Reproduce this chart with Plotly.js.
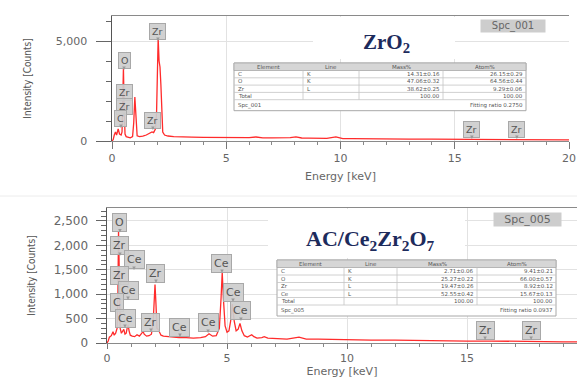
<!DOCTYPE html>
<html>
<head>
<meta charset="utf-8">
<script src="https://cdn.plot.ly/plotly-3.0.1.min.js"></script>
<style>html,body{margin:0;padding:0;background:#fff;}#chart{width:577px;height:378px;}</style>
</head>
<body>
<div id="chart"></div>
<script>
// ---------- DATA ----------
// ZrO2 spectrum (Spc_001)
const topKeV = [0,0.05,0.1,0.15,0.2, 0.27,0.33,0.4,0.44,0.47,
  0.5,0.53,0.57,0.62,0.7, 0.8,0.9,0.95,1.0,1.05,
  1.1,1.2,1.35,1.5,1.65, 1.75,1.82,1.9,1.95,1.98,
  2.02,2.06,2.1,2.14,2.18, 2.22,2.3,2.45,2.7,3.0,
  3.5,4.0,4.5,5.0,5.5, 6.0,6.3,6.6,7.0,7.5,
  7.8,8.05,8.3,8.6,9.0, 9.4,9.8,10.1,10.5,11,
  12,13,14,15,16, 17,18,19,20];
const topCounts = [0,60,300,450,300, 600,350,300,450,1800,
  3650,1800,350,220,180, 160,220,900,2200,900,
  260,220,240,300,380, 450,420,600,1400,3000,
  5150,4000,3700,2800,1200, 450,300,250,220,200,
  190,180,170,180,170, 170,200,160,160,150,
  170,210,150,140,140, 130,210,120,120,110,
  100,90,90,80,80, 70,70,60,60];

// AC/Ce2Zr2O7 spectrum (Spc_005)
const botKeV = [0,0.05,0.1,0.18,0.25, 0.3,0.36,0.42,0.45,0.48,
  0.51,0.55,0.6,0.65,0.7, 0.75,0.8,0.85,0.88,0.92,
  0.97,1.05,1.15,1.25,1.35, 1.45,1.5,1.55,1.65,1.75,
  1.85,1.92,1.96,2.0,2.04, 2.08,2.13,2.18,2.25,2.35,
  2.5,2.8,3.0,3.3,3.6, 3.9,4.1,4.25,4.4,4.55,
  4.68,4.75,4.8,4.85,4.92, 5.0,5.08,5.15,5.22,5.3,
  5.38,5.46,5.54,5.62,5.72, 5.85,5.95,6.03,6.12,6.25,
  6.45,6.55,6.7,7.0,7.5, 8.0,8.3,8.8,9.5,10,
  11,12,13,14,15, 16,17,18,19,19.6];
const botCounts = [0,40,120,150,230, 160,200,300,800,2300,
  1500,300,200,250,280, 180,200,330,370,250,
  160,140,130,170,140, 200,240,180,140,150,
  180,400,900,1200,800, 300,280,240,160,140,
  130,120,110,110,100, 110,130,190,140,150,
  300,900,1450,900,350, 220,250,450,800,450,
  250,280,400,250,150, 120,140,170,130,100,
  110,130,100,90,80, 120,80,80,70,70,
  60,60,50,50,40, 40,30,30,25,25];

// Peak labels
const topPeakEl  = ['Zr','O','Zr','Zr','C','Zr','Zr','Zr'];
const topPeakKeV = [2.01,0.525,0.525,0.525,0.39,1.79,15.75,17.72];
const botPeakEl  = ['O','Zr','Ce','Zr','Ce','C','Ce','Zr','Zr','Ce','Ce','Ce','Ce','Ce','Zr','Zr'];
const botPeakKeV = [0.54,0.54,1.125,0.54,0.875,0.42,0.75,1.83,2.04,3.04,4.21,4.79,5.25,5.58,15.75,17.67];

// Quantification tables
const tblHeader = ['Element','Line','Mass%','Atom%'];
const topTblElem = ['C','O','Zr','Total'];
const topTblLine = ['K','K','L',''];
const topTblMass = ['14.31±0.16','47.06±0.32','38.62±0.25','100.00'];
const topTblAtom = ['26.15±0.29','64.56±0.44','9.29±0.06','100.00'];
const topSpec = 'Spc_001', topFit = 'Fitting ratio 0.2750';
const botTblElem = ['C','O','Zr','Ce','Total'];
const botTblLine = ['K','K','L','L',''];
const botTblMass = ['2.71±0.06','25.27±0.22','19.47±0.26','52.55±0.42','100.00'];
const botTblAtom = ['9.41±0.21','66.00±0.57','8.92±0.12','15.67±0.13','100.00'];
const botSpec = 'Spc_005', botFit = 'Fitting ratio 0.0937';

// ---------- LAYOUT HELPERS (pixel -> paper) ----------
const W = 577, H = 378;
const fx = p => p / W;
const fy = p => 1 - p / H;

// label tip heights (position, counts) for the grey boxes
const topLabelTip = [5000,3550,1950,1250,650,550,100,100];
const botLabelTip = [2264,1783,1496,1168,881,615,307,225,1229,123,205,1434,840,451,61,61];

const shapes = [];
const annotations = [];

function labelAnn(x, y, text, xa, ya, fs) {
  return {x: x, y: y, xref: xa, yref: ya, text: text, showarrow: true,
    ax: 0, ay: -10, arrowhead: 2, arrowsize: 0.7, arrowwidth: 1, arrowcolor: '#9a9a9a',
    bgcolor: 'rgba(205,205,205,0.92)', bordercolor: '#a8a8a8', borderwidth: 1, borderpad: 2,
    font: {family: 'DejaVu Sans', size: fs, color: '#555'}};
}
topPeakEl.forEach((t, i) => annotations.push(labelAnn(topPeakKeV[i], topLabelTip[i], t, 'x', 'y', 9.5)));
botPeakEl.forEach((t, i) => annotations.push(labelAnn(botPeakKeV[i], botLabelTip[i], t, 'x2', 'y2', 11)));

// white panels behind titles
shapes.push({type:'rect', xref:'paper', yref:'paper', x0:fx(313), x1:fx(455), y0:fy(59), y1:fy(17), fillcolor:'#fff', line:{width:0}, layer:'above'});
shapes.push({type:'rect', xref:'paper', yref:'paper', x0:fx(268), x1:fx(465), y0:fy(258), y1:fy(209), fillcolor:'#fff', line:{width:0}, layer:'above'});
// faint separator between the two panels
shapes.push({type:'line', xref:'paper', yref:'paper', x0:0, x1:1, y0:fy(196), y1:fy(196), line:{color:'#ececec', width:1}});

function drawTable(cols, top, headH, rowH, lastH, elem, line, mass, atom, spec, fit) {
  const n = elem.length;
  const bodyBottom = top + headH + n * rowH;
  const bottom = bodyBottom + lastH;
  const L = cols[0], R = cols[cols.length - 1];
  shapes.push({type:'rect', xref:'paper', yref:'paper', x0:fx(L), x1:fx(R), y0:fy(bottom), y1:fy(top), fillcolor:'#fff', line:{color:'#a8a8a8', width:1}, layer:'above'});
  shapes.push({type:'rect', xref:'paper', yref:'paper', x0:fx(L), x1:fx(R), y0:fy(top+headH), y1:fy(top), fillcolor:'#d6d6d6', line:{color:'#a8a8a8', width:0.8}, layer:'above'});
  for (let r = 1; r <= n; r++) {
    const yy = top + headH + r * rowH;
    shapes.push({type:'line', xref:'paper', yref:'paper', x0:fx(L), x1:fx(R), y0:fy(yy), y1:fy(yy), line:{color:'#c4c4c4', width:0.8}, layer:'above'});
  }
  for (let c = 1; c < cols.length - 1; c++) {
    shapes.push({type:'line', xref:'paper', yref:'paper', x0:fx(cols[c]), x1:fx(cols[c]), y0:fy(bodyBottom), y1:fy(top+headH), line:{color:'#c4c4c4', width:0.8}, layer:'above'});
  }
  const f = {family:'DejaVu Sans', size:5.5, color:'#555'};
  tblHeader.forEach((h, c) => annotations.push({xref:'paper', yref:'paper', x:fx((cols[c]+cols[c+1])/2), y:fy(top+headH/2), text:h, showarrow:false, xanchor:'center', yanchor:'middle', font:f}));
  for (let r = 0; r < n; r++) {
    const yc = fy(top + headH + r * rowH + rowH / 2);
    annotations.push({xref:'paper', yref:'paper', x:fx(cols[0]+1.5), y:yc, text:elem[r], showarrow:false, xanchor:'left', yanchor:'middle', font:f});
    if (line[r]) annotations.push({xref:'paper', yref:'paper', x:fx(cols[1]+1.5), y:yc, text:line[r], showarrow:false, xanchor:'left', yanchor:'middle', font:f});
    annotations.push({xref:'paper', yref:'paper', x:fx(cols[3]-1.5), y:yc, text:mass[r], showarrow:false, xanchor:'right', yanchor:'middle', font:f});
    annotations.push({xref:'paper', yref:'paper', x:fx(cols[4]-1.5), y:yc, text:atom[r], showarrow:false, xanchor:'right', yanchor:'middle', font:f});
  }
  const yl = fy(bodyBottom + lastH / 2);
  annotations.push({xref:'paper', yref:'paper', x:fx(L+1.5), y:yl, text:spec, showarrow:false, xanchor:'left', yanchor:'middle', font:f});
  annotations.push({xref:'paper', yref:'paper', x:fx(R-1.5), y:yl, text:fit, showarrow:false, xanchor:'right', yanchor:'middle', font:f});
}
drawTable([234, 303, 359, 443, 526], 63, 7.5, 7.3, 11, topTblElem, topTblLine, topTblMass, topTblAtom, topSpec, topFit);
drawTable([277, 344, 397, 477, 556], 260, 7.5, 7.5, 11, botTblElem, botTblLine, botTblMass, botTblAtom, botSpec, botFit);

// Titles and spectrum tags
annotations.push({xref:'paper', yref:'paper', x:fx(386), y:fy(43), text:'<b>ZrO<sub>2</sub></b>', showarrow:false, xanchor:'center', yanchor:'middle', font:{family:'Liberation Serif, DejaVu Serif, serif', size:21, color:'#1d2b5c'}});
annotations.push({xref:'paper', yref:'paper', x:fx(370), y:fy(240), text:'<b>AC/Ce<sub>2</sub>Zr<sub>2</sub>O<sub>7</sub></b>', showarrow:false, xanchor:'center', yanchor:'middle', font:{family:'Liberation Serif, DejaVu Serif, serif', size:22, color:'#1d2b5c'}});
annotations.push({xref:'paper', yref:'paper', x:fx(513), y:fy(26), text:'Spc_001', showarrow:false, xanchor:'center', yanchor:'middle', width:64, height:12, bgcolor:'#cdcdcd', borderpad:0, font:{family:'DejaVu Sans', size:10, color:'#666'}});
annotations.push({xref:'paper', yref:'paper', x:fx(527), y:fy(219), text:'Spc_005', showarrow:false, xanchor:'center', yanchor:'middle', width:67, height:13, bgcolor:'#cdcdcd', borderpad:0, font:{family:'DejaVu Sans', size:11, color:'#666'}});

// ---------- TRACES ----------
const lineStyle = {color:'#ff2b2b', width:1.3};
const traces = [
  {type:'scatter', mode:'lines', x: topKeV, y: topCounts, xaxis:'x', yaxis:'y', line: lineStyle, hoverinfo:'skip', showlegend:false},
  {type:'scatter', mode:'lines', x: botKeV, y: botCounts, xaxis:'x2', yaxis:'y2', line: lineStyle, hoverinfo:'skip', showlegend:false}
];

const tickFontTop = {family:'DejaVu Sans', size:11, color:'#666'};
const tickFontBot = {family:'DejaVu Sans', size:12, color:'#666'};
const tickFontBotX = {family:'DejaVu Sans', size:11, color:'#666'};
const ytitleFont = {family:'Liberation Sans Narrow, DejaVu Sans Condensed, Roboto, sans-serif', size:10, color:'#555'};
const gridC = '#e2e2e2';

const layout = {
  width: W, height: H,
  margin: {l:0, r:0, t:0, b:0},
  paper_bgcolor:'#fff', plot_bgcolor:'#fff',
  showlegend:false,
  xaxis: {domain:[fx(112), fx(569)], range:[0,20], anchor:'y', dtick:5, tick0:0,
    ticks:'outside', ticklen:7, tickcolor:'#777', tickwidth:1,
    minor:{dtick:1, ticks:'outside', ticklen:3, tickcolor:'#888', showgrid:false},
    showline:true, linecolor:'#8a8a8a', linewidth:1, mirror:true,
    showgrid:true, gridcolor:gridC, zeroline:false, tickfont:tickFontTop,
    title:{text:'Energy [keV]', font:tickFontTop, standoff:8}},
  yaxis: {domain:[fy(141), fy(16)], range:[0,6250], anchor:'x', dtick:5000, tick0:0, tickformat:',d',
    ticks:'outside', ticklen:15, tickcolor:'#666', tickwidth:1, ticklabelstandoff:6,
    minor:{dtick:1000, ticks:'outside', ticklen:5, tickcolor:'#666', showgrid:false},
    showline:true, linecolor:'#555', linewidth:1.5,
    showgrid:true, gridcolor:gridC, zeroline:false, tickfont:tickFontTop,
    title:{text:'Intensity [Counts]', font:ytitleFont, standoff:22}},
  xaxis2: {domain:[fx(107), 1], range:[0,19.58], anchor:'y2', dtick:5, tick0:0,
    ticks:'outside', ticklen:5, tickcolor:'#777', tickwidth:1,
    minor:{dtick:1, ticks:'outside', ticklen:3, tickcolor:'#888', showgrid:false},
    showline:true, linecolor:'#8a8a8a', linewidth:1, mirror:true,
    showgrid:true, gridcolor:gridC, zeroline:false, tickfont:tickFontBotX,
    title:{text:'Energy [keV]', font:{family:'DejaVu Sans', size:11, color:'#666'}, standoff:3}},
  yaxis2: {domain:[fy(343), fy(208)], range:[0,2766], anchor:'x2', dtick:500, tick0:0, tickformat:',d',
    ticks:'outside', ticklen:10, tickcolor:'#666', tickwidth:1, ticklabelstandoff:5,
    minor:{dtick:100, ticks:'outside', ticklen:5, tickcolor:'#666', showgrid:false},
    showline:true, linecolor:'#555', linewidth:1.5,
    showgrid:true, gridcolor:gridC, zeroline:false, tickfont:tickFontBot,
    title:{text:'Intensity [Counts]', font:ytitleFont, standoff:16}},
  shapes: shapes,
  annotations: annotations
};

Plotly.newPlot('chart', traces, layout, {displayModeBar:false, staticPlot:true});
</script>
</body>
</html>
